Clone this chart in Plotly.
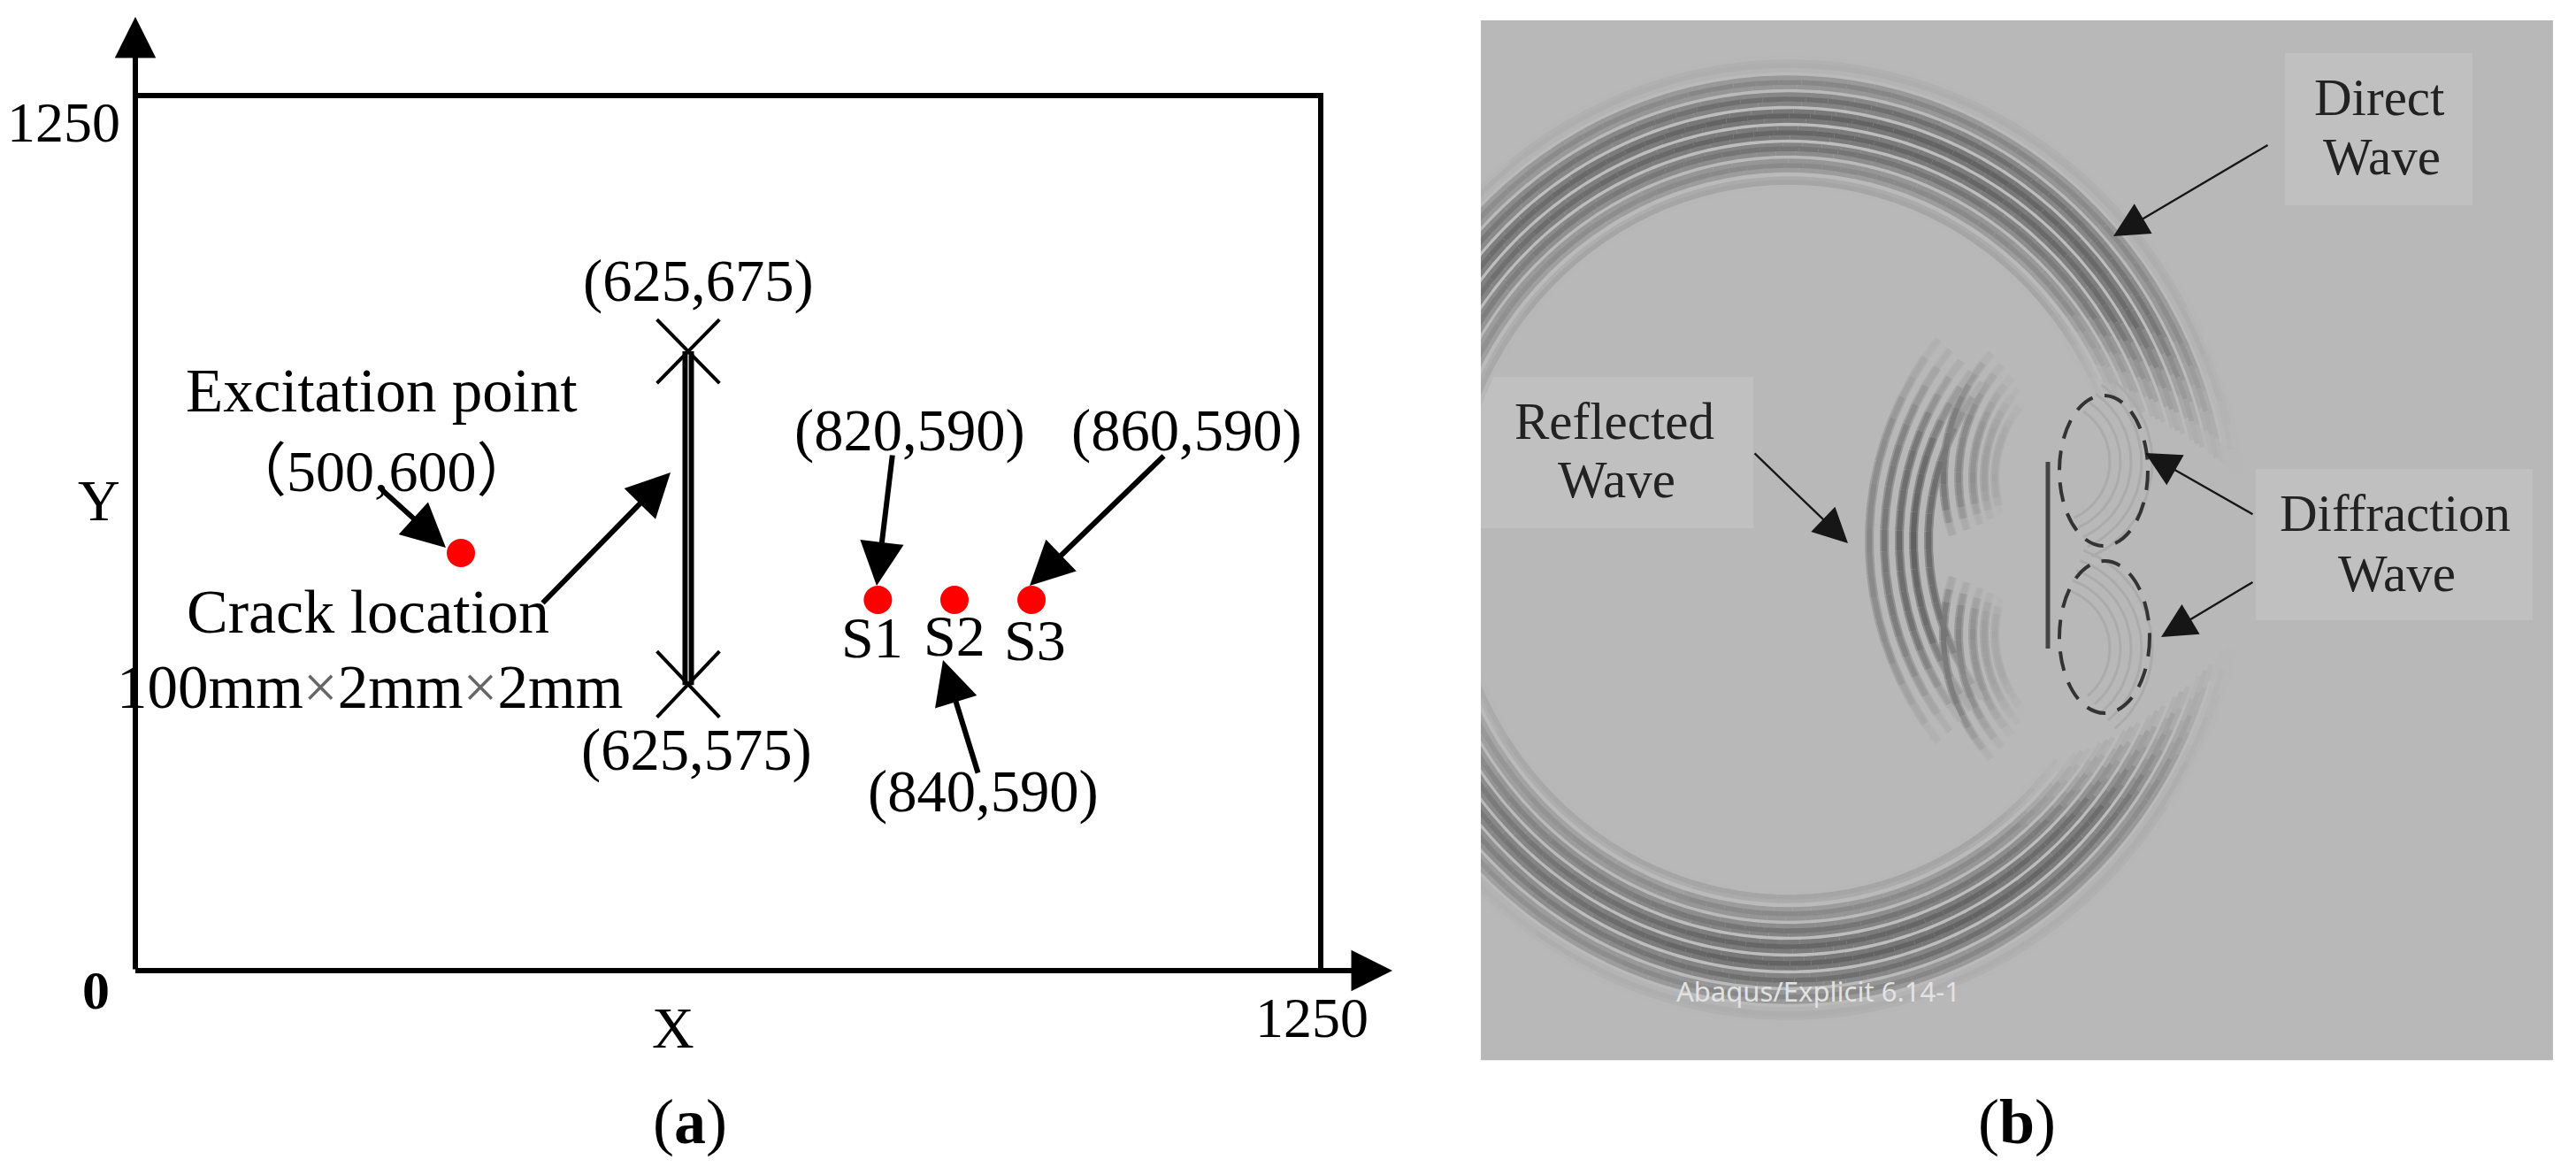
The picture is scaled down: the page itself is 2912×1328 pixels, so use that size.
import numpy as np
import plotly.graph_objects as go

# ---------- panel (a) values, in the schematic's own 0..1250 units ----------
plate_x = [0, 1250, 1250, 0]
plate_y = [1250, 1250, 0, 0]
excitation_x = [343.3]
excitation_y = [596.6]
sensor_x = [783.0, 863.8, 945.0]
sensor_y = [529.6, 529.6, 529.6]
crack_x = [583.0, 583.0]
crack_y = [884.7, 408.0]
cross_top_x = [550.0, 616.0, None, 616.0, 550.0]
cross_top_y = [930.0, 839.0, None, 930.0, 839.0]
cross_bot_x = [550.0, 616.0, None, 616.0, 550.0]
cross_bot_y = [456.0, 362.0, None, 456.0, 362.0]

# ---------- panel (b) values, in image pixels ----------
ring_center = (2022, 610)
ring_ry = [545, 540, 536, 531, 527, 522, 517, 512, 507, 503, 498, 493, 488, 484, 479, 474,
           469, 465, 460, 455, 450, 446, 442, 437, 432, 428, 423, 418, 413, 408, 404, 399]
ring_gray = [184, 178, 174, 180, 186, 152, 136, 150, 186, 134, 112, 132, 188, 120, 100, 120,
             188, 122, 102, 124, 188, 132, 118, 140, 186, 150, 138, 156, 186, 172, 164, 182]
reflected_x0 = [2113, 2130, 2147, 2163, 2180]
reflected_r = [370, 350, 330, 310, 290]
reflected_strength = [0.55, 0.75, 0.9, 1.0, 0.9]
lobe_x0 = [2197, 2214, 2230, 2243, 2255]
lobe_r = [210, 190, 170, 150, 130]
lobe_strength = [0.75, 0.6, 0.45, 0.3, 0.2]
diffraction_r = [70, 82, 94, 106, 118]

BG = 184
X_FULL, Y_FULL = 2912, 1328
FONT = "Liberation Serif, Noto Sans CJK SC, serif"


def ax(px):
    return (px - 153) * 1250 / 1340


def ay(py):
    return (1097 - py) * 1250 / 989


def mix(gray, amp):
    return BG + (gray - BG) * amp


fig = go.Figure()
groups = {}


def add_seg(xs, ys, gray, width):
    key = (width, int(round(gray / 3.0) * 3))
    g = groups.setdefault(key, ([], []))
    g[0].extend(list(xs) + [None])
    g[1].extend(list(ys) + [None])


# main wave fronts
cx, cy = ring_center
for ry, gray in zip(ring_ry, ring_gray):
    rx = 0.95 * ry
    t = min(max((ry - 404) / 132, 0), 1)
    top_end = 24 - 16 * t
    bot_end = 38 - 25 * t
    for sign, end, edge_amp in ((1, top_end, 0.8), (-1, bot_end, 0.6)):
        ths = np.arange(end, 168, 3.0)
        for a, b in zip(ths[:-1], ths[1:]):
            mid = (a + b) / 2
            amp = np.interp(mid, [end, end + 16, 60, 100, 165], [0.05, 0.9, 1, 1, edge_amp])
            th = np.radians(np.linspace(a, b, 2))
            add_seg(cx + rx * np.cos(th), cy - sign * ry * np.sin(th), mix(gray, amp), 5.5)


# reflected wave fronts
def reflected(x0, r, strength, yc, lo, hi):
    for a in np.arange(lo, hi, 4.0):
        mid = a + 2
        frac = mid / hi if mid > 0 else mid / lo
        amp = strength * np.interp(frac, [0, 0.5, 1], [1, 0.85, 0.05])
        ph = np.radians(np.linspace(a, a + 4, 3))
        xs = x0 + r - r * np.cos(ph)
        ys = yc + r * np.sin(ph)
        add_seg(xs, ys, mix(96, amp * 0.6), 10)
        add_seg(xs, ys, mix(96, amp), 6)


for x0, r, s in zip(reflected_x0, reflected_r, reflected_strength):
    reflected(x0, r, s, 611, -38, 38)
for x0, r, s in zip(lobe_x0, lobe_r, lobe_strength):
    reflected(x0, r, s, 540, -42, 18)
    reflected(x0, r, s, 717, -18, 42)

# faint diffraction arcs
for r in diffraction_r:
    for yc, lo, hi in ((522, -55, 65), (733, -70, 50)):
        ph = np.radians(np.linspace(lo, hi, 30))
        add_seg(2315 + r * np.cos(ph), yc + r * np.sin(ph), 170, 3)

for (w, g), (xs, ys) in sorted(groups.items(), key=lambda kv: (-kv[0][0], -kv[0][1])):
    fig.add_trace(go.Scatter(x=xs, y=ys, xaxis="x2", yaxis="y2", mode="lines",
                             line=dict(color=f"rgb({g},{g},{g})", width=w),
                             hoverinfo="skip", showlegend=False))

# crack in panel (b)
fig.add_trace(go.Scatter(x=[2315, 2315], y=[522, 733], xaxis="x2", yaxis="y2", mode="lines",
                         line=dict(color="#454545", width=5), hoverinfo="skip", showlegend=False))

# panel (a)
fig.add_trace(go.Scatter(x=plate_x, y=plate_y, mode="lines", line=dict(color="black", width=6),
                         hoverinfo="skip", showlegend=False))
fig.add_trace(go.Scatter(x=crack_x, y=crack_y, mode="lines", line=dict(color="black", width=13),
                         hoverinfo="skip", showlegend=False))
fig.add_trace(go.Scatter(x=crack_x, y=crack_y, mode="lines", line=dict(color="#999999", width=2),
                         hoverinfo="skip", showlegend=False))
for xs, ys in ((cross_top_x, cross_top_y), (cross_bot_x, cross_bot_y)):
    fig.add_trace(go.Scatter(x=xs, y=ys, mode="lines", line=dict(color="black", width=4),
                             hoverinfo="skip", showlegend=False))
fig.add_trace(go.Scatter(x=excitation_x + sensor_x, y=excitation_y + sensor_y, mode="markers",
                         marker=dict(color="#ff0000", size=32, line=dict(width=0)),
                         hoverinfo="skip", showlegend=False))

anns = []


def text_a(s, px, py, size=67):
    anns.append(dict(text=s, x=ax(px), y=ay(py), xref="x", yref="y", showarrow=False,
                     xanchor="center", yanchor="middle",
                     font=dict(family=FONT, size=size, color="black")))


def text_b(s, px, py, size=59, color="#222222", family=FONT):
    anns.append(dict(text=s, x=px, y=py, xref="x2", yref="y2", showarrow=False,
                     xanchor="center", yanchor="middle",
                     font=dict(family=family, size=size, color=color)))


def arrow_a(tail, tip, width=6, size=1.65):
    anns.append(dict(text="", x=ax(tip[0]), y=ay(tip[1]), ax=ax(tail[0]), ay=ay(tail[1]),
                     xref="x", yref="y", axref="x", ayref="y", showarrow=True,
                     arrowhead=2, arrowsize=size, arrowwidth=width, arrowcolor="black",
                     standoff=0, startstandoff=0))


def arrow_b(tail, tip):
    anns.append(dict(text="", x=tip[0], y=tip[1], ax=tail[0], ay=tail[1],
                     xref="x2", yref="y2", axref="x2", ayref="y2", showarrow=True,
                     arrowhead=2, arrowsize=3.4, arrowwidth=2.3, arrowcolor="#161616",
                     standoff=0, startstandoff=0))


GRAY_X = '<span style="color:#666666">×</span>'
text_a("1250", 72, 138, 64)
text_a("Y", 112, 565, 66)
text_a("<b>0</b>", 108, 1119, 62)
text_a("X", 761, 1161, 66)
text_a("1250", 1483, 1150, 64)
text_a("(625,675)", 789, 318, 66.6)
text_a("(625,575)", 787, 848, 66.6)
text_a("Excitation point", 431, 442, 69)
text_a("（500,600）", 431, 532, 66)
text_a("Crack location", 416, 691, 70)
text_a(f"100mm{GRAY_X}2mm{GRAY_X}2mm", 418, 777, 69)
text_a("(820,590)", 1028, 487, 66.6)
text_a("(860,590)", 1341, 487, 66.6)
text_a("(840,590)", 1111, 895, 66.6)
text_a("S1", 986, 720, 66)
text_a("S2", 1079, 718, 66)
text_a("S3", 1170, 723, 66)
text_a("(<b>a</b>)", 780, 1268, 72)
text_a("(<b>b</b>)", 2280, 1268, 72)

arrow_a((153, 1097), (153, 19), 6, 1.55)
arrow_a((153, 1097), (1574, 1097), 6, 1.55)
arrow_a((430, 552), (504, 619))
arrow_a((612, 683), (758, 534))
arrow_a((1009, 513), (991, 662))
arrow_a((1317, 514), (1164, 662))
arrow_a((1106, 875), (1066, 746))

text_b("Direct", 2690, 110)
text_b("Wave", 2692, 177)
text_b("Reflected", 1825, 476)
text_b("Wave", 1828, 542)
text_b("Diffraction", 2707, 580)
text_b("Wave", 2709, 648)
text_b("Abaqus/Explicit 6.14-1", 2055, 1120, 31, "#e2e2e2", "Noto Sans, sans-serif")

arrow_b((2565, 163), (2389, 267))
arrow_b((1982, 511), (2089, 614))
arrow_b((2548, 582), (2425, 512))
arrow_b((2548, 657), (2443, 720))

shapes = [
    dict(type="rect", xref="x2", yref="y2", x0=1674, x1=2886, y0=23, y1=1198.5,
         fillcolor="#b8b8b8", line=dict(width=0), layer="below"),
    dict(type="rect", xref="x2", yref="y2", x0=2583, x1=2795, y0=60, y1=232,
         fillcolor="#c0c0c0", line=dict(width=0), layer="below"),
    dict(type="rect", xref="x2", yref="y2", x0=1674, x1=1982, y0=426, y1=597,
         fillcolor="#c0c0c0", line=dict(width=0), layer="below"),
    dict(type="rect", xref="x2", yref="y2", x0=2550, x1=2863, y0=530, y1=701,
         fillcolor="#c0c0c0", line=dict(width=0), layer="below"),
    dict(type="circle", xref="x2", yref="y2", x0=2328, x1=2428, y0=447, y1=617,
         line=dict(color="#333333", width=4, dash="22px,14px"), layer="above"),
    dict(type="circle", xref="x2", yref="y2", x0=2328, x1=2430, y0=634, y1=806,
         line=dict(color="#333333", width=4, dash="22px,14px"), layer="above"),
]

hidden = dict(visible=False, showgrid=False, zeroline=False, fixedrange=True)
fig.update_layout(
    width=X_FULL, height=Y_FULL, autosize=False,
    margin=dict(l=0, r=0, t=0, b=0, pad=0),
    paper_bgcolor="white", plot_bgcolor="rgba(0,0,0,0)",
    showlegend=False,
    xaxis=dict(domain=[0, 1], range=[ax(0), ax(X_FULL)], **hidden),
    yaxis=dict(domain=[0, 1], range=[ay(Y_FULL), ay(0)], **hidden),
    xaxis2=dict(domain=[1674 / X_FULL, 2886 / X_FULL], range=[1674, 2886], anchor="y2", **hidden),
    yaxis2=dict(domain=[1 - 1198.5 / Y_FULL, 1 - 23 / Y_FULL], range=[1198.5, 23], anchor="x2", **hidden),
    annotations=anns, shapes=shapes,
)

fig.write_html("out.html", config={"displayModeBar": False},
               post_script="document.body.style.margin='0';document.body.style.overflow='hidden';")
